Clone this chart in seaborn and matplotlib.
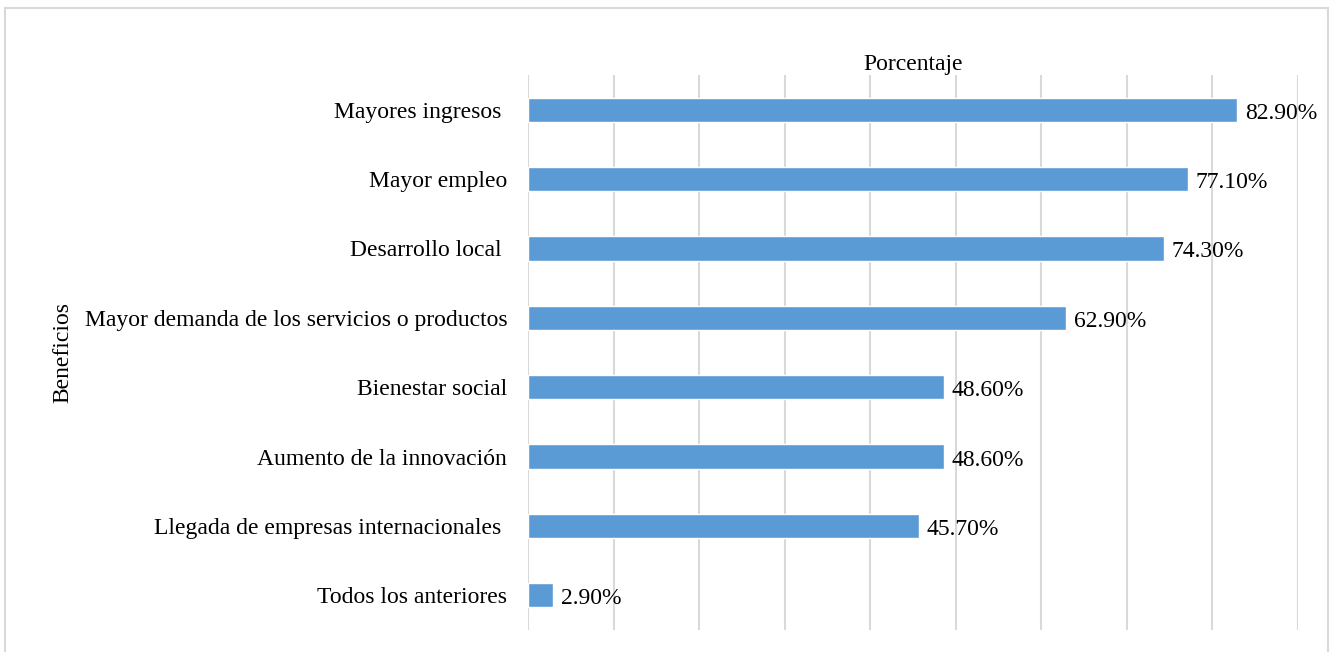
import matplotlib
matplotlib.use("Agg")
import matplotlib.pyplot as plt
import seaborn as sns
import pandas as pd
from matplotlib.patches import Rectangle

# datos
beneficios = ["Mayores ingresos ", "Mayor empleo", "Desarrollo local ",
              "Mayor demanda de los servicios o productos", "Bienestar social",
              "Aumento de la innovación", "Llegada de empresas internacionales ",
              "Todos los anteriores"]
porcentaje = [82.9, 77.1, 74.3, 62.9, 48.6, 48.6, 45.7, 2.9]

df = pd.DataFrame({"Beneficios": beneficios, "Porcentaje": porcentaje})

sns.set_style("white")
plt.rcParams['font.family'] = ['Liberation Serif', 'DejaVu Serif']
plt.rcParams['text.color'] = 'black'
plt.rcParams['axes.labelcolor'] = 'black'
plt.rcParams['ytick.color'] = 'black'

fig = plt.figure(figsize=(13.33, 6.52), dpi=100)
ax = fig.add_axes([528/1333, 1-630/652, (1298-528)/1333, (630-75)/652])

sns.barplot(data=df, x="Porcentaje", y="Beneficios", color="#5B9BD5",
            width=0.35, saturation=1, ax=ax, orient="h")

ax.set_xlim(0, 90)
ax.set_xticks(range(0, 91, 10))
ax.set_xticklabels([])
ax.tick_params(axis="x", length=0)
ax.tick_params(axis="y", length=0, pad=15, labelsize=17)
ax.grid(axis="x", color="#d9d9d9", linewidth=1.5)
ax.set_axisbelow(True)
for s in ax.spines.values():
    s.set_visible(False)

ax.set_xlabel("")
ax.set_ylabel("Beneficios", fontsize=17, labelpad=0)
ax.yaxis.set_label_coords(-0.59, 0.5)
ax.set_title("Porcentaje", fontsize=17, pad=2)

# etiquetas de valor
for i, v in enumerate(porcentaje):
    ax.text(v + 0.9, i + 0.05, f"{v:.2f}%", va="center", ha="left", fontsize=17)

fig.add_artist(Rectangle((5/1333, -0.01), 1323/1333, 1.01 - 8/652,
                         transform=fig.transFigure, fill=False,
                         edgecolor="#d9d9d9", linewidth=1.5))

fig.savefig("out.png", dpi=100)
